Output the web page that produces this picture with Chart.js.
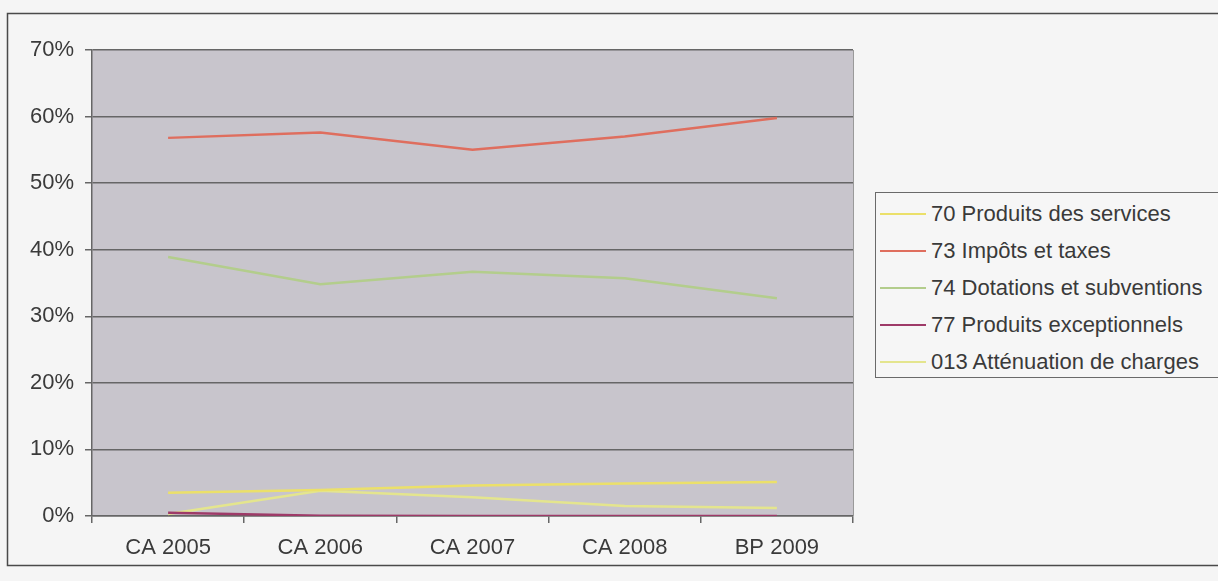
<!DOCTYPE html>
<html lang="fr">
<head>
<meta charset="utf-8">
<title>Structure des recettes de fonctionnement</title>
<script src="https://cdn.jsdelivr.net/npm/chart.js@4/dist/chart.umd.min.js"></script>
<style>
  html, body { margin: 0; padding: 0; background: #f5f5f5; }
  #wrap { position: relative; width: 1218px; height: 581px; overflow: hidden; }
  #chart { position: absolute; left: 0; top: 0; }
  #legend {
    position: absolute; left: 875px; top: 192px; width: 360px; height: 186px;
    border: 1.5px solid #6a6a6a; background: #f6f6f6; box-sizing: border-box;
    font-family: "Liberation Sans", Arial, sans-serif; font-size: 22px; color: #3a3a3a;
    padding-top: 2px;
  }
  #legend .row { height: 37px; line-height: 37px; white-space: nowrap; display: flex; align-items: center; }
  #legend .swatch { display: inline-block; width: 46px; height: 2px; margin-left: 4px; margin-right: 5px; }
</style>
</head>
<body>
<div id="wrap">
  <canvas id="chart" width="1218" height="581"></canvas>
  <div id="legend"></div>
</div>
<script>
// Years on the horizontal axis
const categories = ["CA 2005", "CA 2006", "CA 2007", "CA 2008", "BP 2009"];

// Share of each revenue chapter in operating revenue (%)
const produitsServices = [3.5, 3.9, 4.6, 4.9, 5.1];
const impotsTaxes = [56.8, 57.6, 55.0, 57.0, 59.8];
const dotationsSubventions = [38.9, 34.8, 36.7, 35.7, 32.7];
const produitsExceptionnels = [0.5, 0.05, 0.0, 0.0, 0.0];
const attenuationCharges = [0.3, 3.8, 2.8, 1.5, 1.2];

const seriesNames = [
  "70 Produits des services",
  "73 Impôts et taxes",
  "74 Dotations et subventions",
  "77 Produits exceptionnels",
  "013 Atténuation de charges"
];
const seriesColors = ["#ebe06a", "#df6e5e", "#b3cd8c", "#9e3a68", "#e4e58e"];

// Y axis ticks, in percent
const yTicks = [0, 10, 20, 30, 40, 50, 60, 70];

const seriesValues = [produitsServices, impotsTaxes, dotationsSubventions, produitsExceptionnels, attenuationCharges];

const FONT = "'Liberation Sans', Arial, sans-serif";

// Page frame and grey plot background
const framePlugin = {
  id: "frame",
  beforeDraw(chart) {
    const ctx = chart.ctx;
    const a = chart.chartArea;
    ctx.save();
    ctx.fillStyle = "#f5f5f5";
    ctx.fillRect(0, 0, chart.width, chart.height);
    ctx.strokeStyle = "#4a4a4a";
    ctx.lineWidth = 1.5;
    ctx.strokeRect(7.5, 13.5, 1230, 552);
    ctx.fillStyle = "#c8c5cc";
    ctx.fillRect(a.left, a.top, a.right - a.left, a.bottom - a.top);
    ctx.restore();
  },
  afterDraw(chart) {
    const ctx = chart.ctx;
    const a = chart.chartArea;
    ctx.save();
    ctx.strokeStyle = "#9a9a9a";
    ctx.lineWidth = 1;
    ctx.beginPath();
    ctx.moveTo(a.right + 0.5, a.top);
    ctx.lineTo(a.right + 0.5, a.bottom);
    ctx.stroke();
    ctx.restore();
  }
};

const datasets = seriesNames.map((name, i) => ({
  label: name,
  data: seriesValues[i],
  borderColor: seriesColors[i],
  backgroundColor: seriesColors[i],
  borderWidth: 2.5,
  pointRadius: 0,
  tension: 0,
  fill: false
}));

new Chart(document.getElementById("chart"), {
  type: "line",
  data: { labels: categories, datasets },
  options: {
    responsive: false,
    animation: false,
    layout: { padding: { left: 0, right: 365, top: 50, bottom: 0 } },
    plugins: { legend: { display: false }, tooltip: { enabled: false } },
    scales: {
      x: {
        offset: true,
        grid: { offset: true, drawOnChartArea: false, drawTicks: true, tickLength: 7, color: "#666", lineWidth: 1.5 },
        border: { display: true, color: "#666", width: 1.5 },
        ticks: { color: "#3a3a3a", font: { family: FONT, size: 22 }, padding: 12, maxRotation: 0 },
        afterFit(scale) { scale.height = 65; }
      },
      y: {
        min: 0,
        max: 70,
        afterBuildTicks(scale) { scale.ticks = yTicks.map(v => ({ value: v })); },
        grid: { color: "#666666", lineWidth: 1.5, drawTicks: true, tickLength: 7, tickColor: "#666" },
        border: { display: true, color: "#666", width: 1.5 },
        ticks: {
          color: "#3a3a3a",
          font: { family: FONT, size: 22 },
          padding: 11,
          callback: v => v + "%"
        },
        afterFit(scale) { scale.width = 92; }
      }
    }
  },
  plugins: [framePlugin]
});

// Legend built from the series names and colours
const legend = document.getElementById("legend");
seriesNames.forEach((name, i) => {
  const row = document.createElement("div");
  row.className = "row";
  const sw = document.createElement("span");
  sw.className = "swatch";
  sw.style.background = seriesColors[i];
  const txt = document.createElement("span");
  txt.textContent = name;
  row.appendChild(sw);
  row.appendChild(txt);
  legend.appendChild(row);
});
</script>
</body>
</html>
